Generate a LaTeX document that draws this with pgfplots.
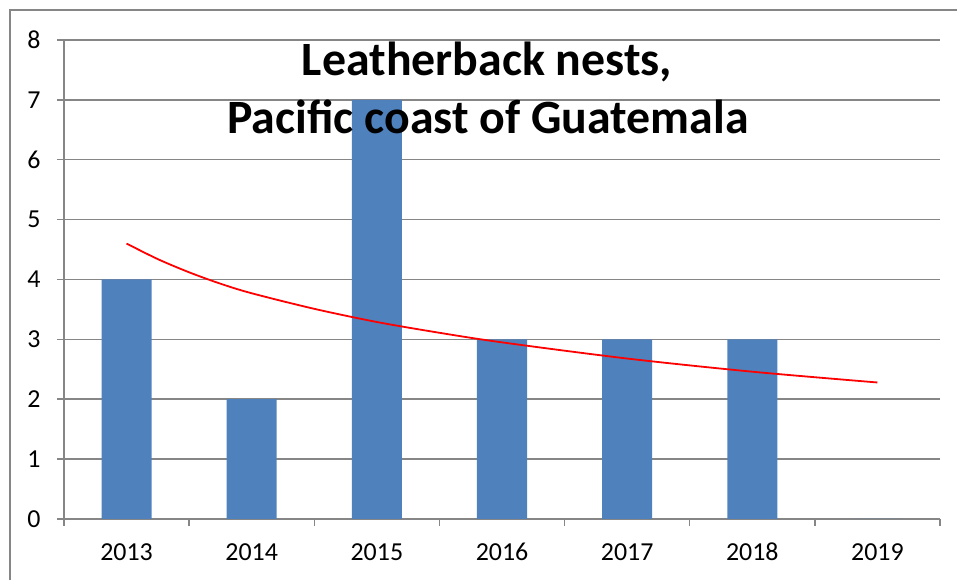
\documentclass[border=0pt]{standalone}
\usepackage{fontspec}
\setmainfont{Carlito}
\usepackage{pgfplots}
\pgfplotsset{compat=1.18}
\definecolor{barblue}{RGB}{79,129,189}
\definecolor{gridgray}{RGB}{134,134,134}

\begin{document}
\begin{tikzpicture}[x=1bp,y=1bp]
\useasboundingbox (0,0) rectangle (957,580);
% chart area frame
\draw[gridgray, line width=2bp] (10,-20) -- (10,570) -- (990,570);
\begin{axis}[
  at={(64bp,61bp)}, anchor=south west,
  scale only axis, width=876bp, height=479bp,
  xmin=-0.5, xmax=6.5, ymin=0, ymax=8,
  axis x line*=bottom, axis y line*=left,
  axis line style={gridgray, line width=1.5bp, -},
  ytick={0,1,2,3,4,5,6,7,8},
  ymajorgrids, grid style={gridgray, line width=1.5bp},
  tick align=outside, major tick length=7bp,
  tick style={gridgray, line width=1.5bp},
  xtick={-0.5,0.5,1.5,2.5,3.5,4.5,5.5,6.5}, xticklabels={},
  extra x ticks={0,1,2,3,4,5,6},
  extra x tick labels={2013,2014,2015,2016,2017,2018,2019},
  extra x tick style={major tick length=0pt, grid=none,
    xticklabel style={yshift=-21bp}},
  ticklabel style={font=\fontsize{26}{30}\selectfont, text=black},
  xticklabel style={text height=17bp, text depth=0bp},
  yticklabel style={xshift=-13bp},
  /pgf/number format/assume math mode=true,
  clip=false,
]
\addplot[ybar, bar width=0.4, fill=barblue, draw=none]
  coordinates {(0,4) (1,2) (2,7) (3,3) (4,3) (5,3) (6,0)};
% logarithmic trend line
\addplot[red, line width=1.8bp, smooth]
  coordinates {(0,4.60) (0.25,4.34) (0.5,4.12) (0.75,3.93) (1,3.77) (1.5,3.51)
               (2,3.29) (2.5,3.11) (3,2.95) (4,2.68) (5,2.46) (6,2.28)};
\end{axis}
\node[anchor=base, font=\fontsize{48}{58}\selectfont\bfseries] at (487,504) {Leatherback nests,};
\node[anchor=base, font=\fontsize{48}{58}\selectfont\bfseries] at (488,446) {Pacific coast of Guatemala};
\end{tikzpicture}
\end{document}
